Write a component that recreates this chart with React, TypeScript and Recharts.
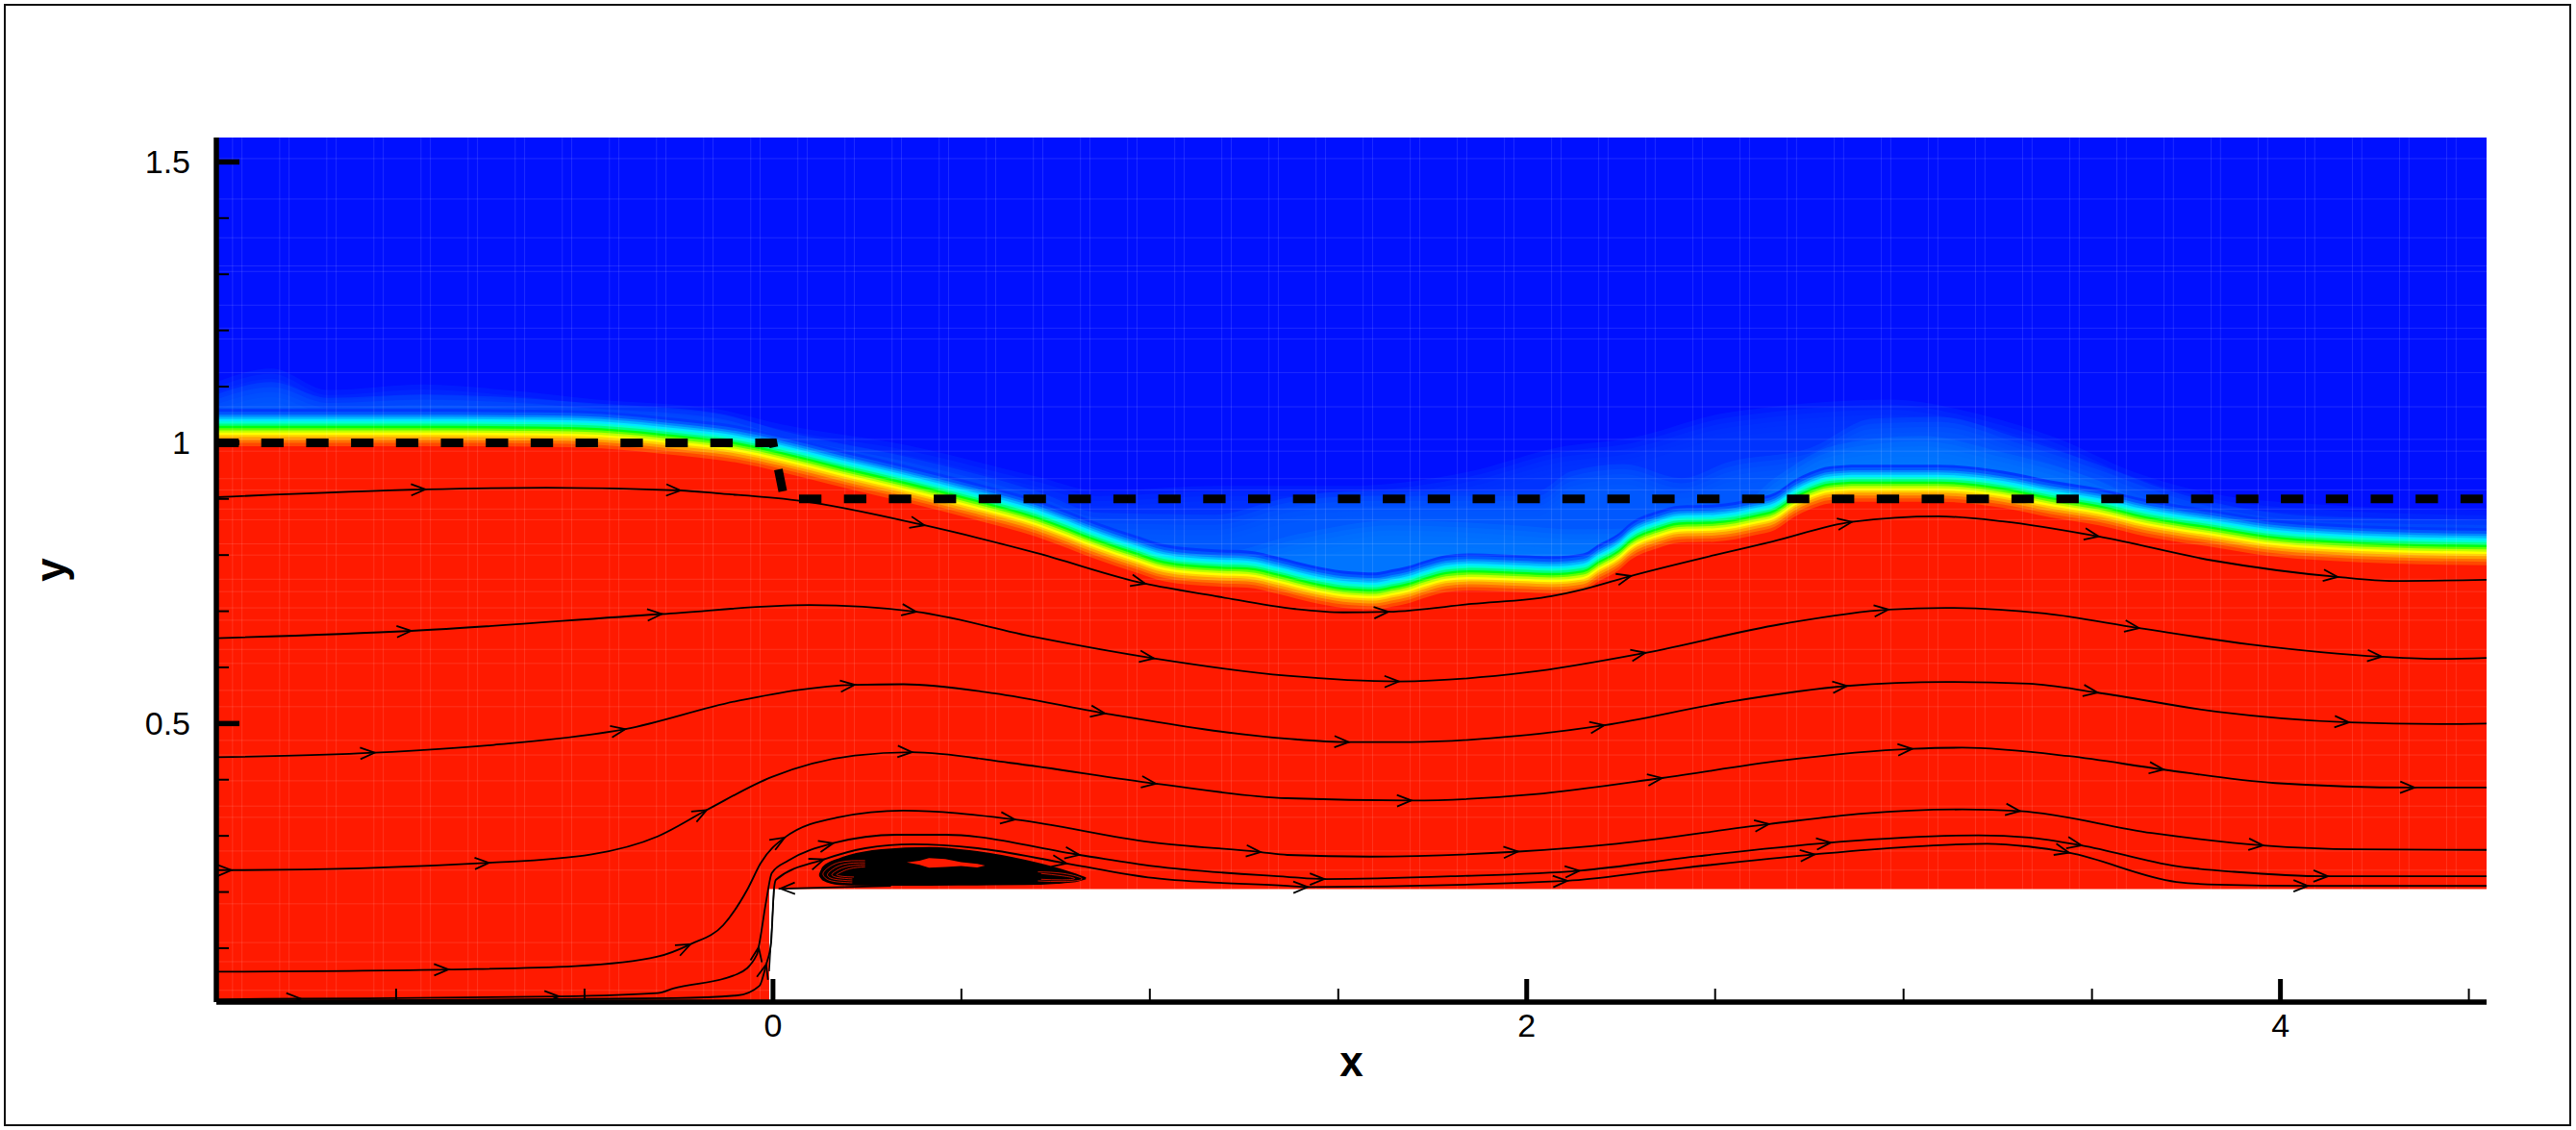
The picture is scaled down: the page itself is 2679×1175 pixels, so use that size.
import { Area, CartesianGrid, ComposedChart, Label, Line, ReferenceArea, XAxis, YAxis } from "recharts";

type P = number[];

const xMin = -1.477;
const xMax = 4.547;
const yMin = 0.004;
const yMax = 1.5435;
const xTicks = [-1, -0.5, 0, 0.5, 1, 1.5, 2, 2.5, 3, 3.5, 4, 4.5];
const xMajor = [0, 2, 4];
const yTicks = [0.1, 0.2, 0.3, 0.4, 0.5, 0.6, 0.7, 0.8, 0.9, 1, 1.1, 1.2, 1.3, 1.4, 1.5];
const yMajor = [0.5, 1, 1.5];

// free surface (green core of the colour band)
const surface: P[] = [
  [-1.477, 1.03], [-0.965, 1.03], [-0.627, 1.029], [-0.456, 1.026], [-0.245, 1.013], [-0.15, 1.006], [-0.099, 1.001],
  [0.02, 0.984], [0.188, 0.956], [0.359, 0.929], [0.53, 0.9], [0.698, 0.869], [0.869, 0.826], [0.953, 0.807],
  [1.039, 0.789], [1.174, 0.78], [1.258, 0.778], [1.345, 0.766], [1.429, 0.752], [1.513, 0.742], [1.6, 0.739], [1.64, 0.744],
  [1.684, 0.75], [1.735, 0.761], [1.786, 0.77], [1.854, 0.773], [1.982, 0.77], [2.066, 0.768], [2.15, 0.773], [2.193, 0.79],
  [2.244, 0.809], [2.277, 0.828], [2.346, 0.848], [2.404, 0.858], [2.499, 0.86], [2.608, 0.872], [2.659, 0.881], [2.71, 0.904],
  [2.753, 0.918], [2.804, 0.928], [2.881, 0.931], [3.092, 0.931], [3.263, 0.92], [3.39, 0.903], [3.518, 0.889], [3.645, 0.869],
  [3.823, 0.85], [3.961, 0.835], [4.129, 0.826], [4.299, 0.821], [4.547, 0.818],
];
const bandOffsets = [0.03, 0.025, 0.02, 0.016, 0.012, 0.008, 0.004, 0, -0.004, -0.008, -0.012, -0.016, -0.02, -0.025, -0.03, -0.036];
const bandColors = [
  "#0038ff", "#0058ff", "#0088ff", "#00b8ff", "#00e8ff", "#00ffd0", "#00ff80", "#00ff10",
  "#60ff00", "#c0ff00", "#ffff00", "#ffd000", "#ffa000", "#ff7000", "#ff4800", "#ff1a00",
];

// pale blue spray above the surface
const hazeFaint: P[] = [
  [-1.477, 1.084], [-1.33, 1.108], [-1.182, 1.07], [-0.927, 1.08], [-0.711, 1.07], [-0.469, 1.053], [-0.15, 1.036],
  [0.02, 1.009], [0.359, 0.971], [0.698, 0.916], [0.869, 0.89], [1.174, 0.899], [1.518, 0.899], [1.849, 0.925],
  [2.078, 0.967], [2.282, 0.985], [2.511, 1.027], [2.664, 1.041], [2.962, 1.053], [3.199, 1.027], [3.403, 0.985],
  [3.607, 0.925], [3.823, 0.885], [4.129, 0.865], [4.547, 0.856],
];
const hazeMid: P[] = [
  [-1.477, 1.062], [-1.33, 1.084], [-1.182, 1.056], [-0.927, 1.062], [-0.469, 1.046], [-0.15, 1.029], [0.02, 0.998],
  [0.359, 0.95], [0.698, 0.89], [0.869, 0.851], [1.174, 0.848], [1.365, 0.878], [1.569, 0.89], [2.027, 0.89],
  [2.117, 0.925], [2.257, 0.938], [2.41, 0.913], [2.537, 0.942], [2.753, 0.967], [2.919, 1.019], [3.097, 1.022],
  [3.301, 0.985], [3.518, 0.937], [3.709, 0.89], [3.963, 0.853], [4.129, 0.844], [4.547, 0.839],
];
const hazeStrong: P[] = [
  [-1.477, 0.9], [1.174, 0.779], [1.391, 0.813], [1.645, 0.838], [1.951, 0.83], [2.13, 0.822], [2.499, 0.83],
  [2.664, 0.916], [2.817, 0.971], [3.046, 0.988], [3.263, 0.959], [3.518, 0.908], [3.658, 0.864], [3.823, 0.83],
  [4.547, 0.805],
];
const hazeLayers: P[][] = [hazeFaint, hazeMid, hazeStrong];
const hazeColors = ["#0038ff", "#005cff", "#0078ff"];
const hazeSoftening = [0.024, 0.015, 0.006, -0.003, -0.012, -0.021];

// dashed black reference profile
const profile: P[] = [[-1.477, 1], [0, 1], [0.03, 0.9], [4.547, 0.9]];

// streamlines: [x, y, 1 if an arrow head sits here]
const stream1: P[] = [
  [-1.477, 0.903], [-0.922, 0.917, 1], [-0.601, 0.92], [-0.245, 0.915, 1], [-0.15, 0.91], [0.079, 0.896], [0.402, 0.853, 1],
  [0.698, 0.804], [0.988, 0.749, 1], [1.174, 0.727], [1.386, 0.704], [1.513, 0.698], [1.633, 0.699, 1], [1.854, 0.713],
  [2.066, 0.727], [2.15, 0.739], [2.277, 0.763, 1], [2.499, 0.8], [2.652, 0.824], [2.863, 0.859, 1], [3.092, 0.869],
  [3.263, 0.86], [3.518, 0.833, 1], [3.823, 0.79], [4.152, 0.761, 1], [4.299, 0.754], [4.547, 0.756],
];
const stream2: P[] = [
  [-1.477, 0.652], [-0.96, 0.665, 1], [-0.295, 0.695, 1], [0.097, 0.711], [0.38, 0.699, 1], [0.695, 0.654], [1.011, 0.616, 1],
  [1.365, 0.585], [1.661, 0.575, 1], [2.0, 0.591], [2.315, 0.626, 1], [2.675, 0.677], [2.96, 0.703, 1], [3.113, 0.706],
  [3.375, 0.696], [3.625, 0.67, 1], [3.92, 0.641], [4.269, 0.619, 1], [4.422, 0.615], [4.547, 0.617],
];
const stream3: P[] = [
  [-1.477, 0.44], [-1.057, 0.448, 1], [-0.741, 0.462], [-0.392, 0.49, 1], [-0.089, 0.541], [0.217, 0.569, 1], [0.346, 0.57],
  [0.586, 0.554], [0.881, 0.518, 1], [1.365, 0.473], [1.528, 0.467, 1], [1.694, 0.467], [1.977, 0.478], [2.206, 0.497, 1],
  [2.522, 0.537], [2.85, 0.567, 1], [3.113, 0.574], [3.332, 0.571], [3.515, 0.555, 1], [3.833, 0.521], [4.182, 0.502, 1],
  [4.422, 0.499], [4.547, 0.5],
];
const stream4: P[] = [
  [-1.477, 0.239], [-1.437, 0.239, 1], [-0.753, 0.252, 1], [-0.481, 0.267], [-0.306, 0.299], [-0.176, 0.346, 1], [-0.003, 0.405],
  [0.217, 0.443], [0.369, 0.449, 1], [0.629, 0.43], [1.016, 0.393, 1], [1.365, 0.367], [1.694, 0.363, 1], [2.02, 0.374],
  [2.359, 0.403, 1], [2.675, 0.434], [3.023, 0.455, 1], [3.156, 0.457], [3.438, 0.442], [3.69, 0.418, 1], [3.986, 0.394],
  [4.356, 0.386, 1], [4.547, 0.386],
];
const stream5: P[] = [
  [-1.477, 0.058], [-0.861, 0.062, 1], [-0.525, 0.068], [-0.306, 0.085], [-0.219, 0.107, 1], [-0.132, 0.141], [-0.066, 0.207],
  [-0.033, 0.251], [0.031, 0.297, 1], [0.173, 0.333], [0.346, 0.345], [0.642, 0.329, 1], [1.001, 0.289], [1.294, 0.271, 1],
  [1.365, 0.266], [1.584, 0.263], [1.977, 0.272, 1], [2.239, 0.286], [2.643, 0.321, 1], [2.895, 0.34], [3.156, 0.347],
  [3.309, 0.344, 1], [3.658, 0.305], [3.954, 0.283, 1], [4.204, 0.276], [4.547, 0.275],
];
const stream6: P[] = [
  [-1.477, 0.009], [-1.253, 0.01, 1], [-0.568, 0.014, 1], [-0.306, 0.02], [-0.265, 0.028], [-0.094, 0.054], [-0.043, 0.088],
  [-0.038, 0.102, 1], [-0.018, 0.184], [-0.003, 0.234], [0.041, 0.256], [0.16, 0.287, 1], [0.329, 0.302], [0.456, 0.302],
  [0.813, 0.266, 1], [1.009, 0.246], [1.365, 0.227], [1.463, 0.223, 1], [1.801, 0.228], [2.14, 0.238, 1], [2.458, 0.264],
  [2.807, 0.288, 1], [3.003, 0.297], [3.199, 0.301], [3.332, 0.297], [3.472, 0.283, 1], [3.724, 0.246], [3.877, 0.236],
  [4.126, 0.228, 1], [4.547, 0.228],
];
const stream7: P[] = [
  [-1.477, 0.005], [-0.265, 0.011], [-0.094, 0.016], [-0.036, 0.033], [-0.018, 0.071, 1], [-0.005, 0.11], [0.003, 0.208],
  [0.008, 0.222], [0.135, 0.258, 1], [0.245, 0.278], [0.372, 0.285], [0.543, 0.278], [0.779, 0.251, 1], [1.009, 0.225],
  [1.365, 0.211], [1.419, 0.209, 1], [2.108, 0.22, 1], [2.348, 0.238], [2.764, 0.267, 1], [3.003, 0.28], [3.222, 0.286],
  [3.332, 0.281], [3.439, 0.27, 1], [3.724, 0.218], [3.833, 0.213], [4.073, 0.211, 1], [4.547, 0.211],
];
const wallRise: P[] = [[-0.01, 0.059], [-0.002, 0.15], [0.003, 0.206]];
const wallBack: P[] = [[0.313, 0.211], [0.02, 0.206, 1], [0.015, 0.206]];
const streams = [stream1, stream2, stream3, stream4, stream5, stream6, stream7];

// recirculation bubble behind the step: x, lower, upper
const bubble: P[] = [
  [0.124, 0.2301, 0.2301], [0.134, 0.2216, 0.2443], [0.176, 0.2141, 0.2585], [0.202, 0.2135, 0.2644], [0.287, 0.213, 0.2747],
  [0.414, 0.2129, 0.2786], [0.542, 0.2135, 0.2712], [0.669, 0.2141, 0.2558], [0.754, 0.2165, 0.2415], [0.796, 0.2187, 0.2325],
  [0.83, 0.2245, 0.2245],
];
const bubbleHole: P[] = [
  [0.355, 0.2528, 0.2528], [0.389, 0.2484, 0.2558], [0.414, 0.2433, 0.2604], [0.457, 0.2444, 0.2587], [0.499, 0.2461, 0.253],
  [0.542, 0.2438, 0.2501], [0.563, 0.2473, 0.2473],
];
const bubbleRings: P[][] = [
  [[0.2445, 0.2558], [0.1766, 0.253], [0.1384, 0.2387], [0.1342, 0.2289], [0.1554, 0.2198], [0.2105, 0.2164]],
  [[0.2445, 0.2519], [0.1851, 0.249], [0.1511, 0.2369], [0.1452, 0.2289], [0.1639, 0.2227], [0.2105, 0.2198]],
  [[0.2445, 0.2484], [0.1936, 0.245], [0.1622, 0.2352], [0.1571, 0.2295], [0.1741, 0.2255], [0.2105, 0.2233]],
  [[0.2445, 0.245], [0.2037, 0.2415], [0.1749, 0.2335], [0.1698, 0.2301], [0.1851, 0.2278], [0.2148, 0.2267]],
  [[0.703, 0.2358], [0.7708, 0.233], [0.82, 0.2233], [0.7708, 0.2187], [0.703, 0.2198]],
  [[0.7115, 0.233], [0.7667, 0.2289], [0.8005, 0.2239], [0.7667, 0.2216], [0.7115, 0.2227]],
];

// faint mesh lines of the solution grid
const meshX = [
  -1.434, -1.409, -1.309, -1.284, -1.184, -1.159, -1.059, -1.034, -0.934, -0.909, -0.809, -0.784, -0.684, -0.659, -0.559, -0.534,
  -0.434, -0.409, -0.309, -0.284, -0.184, -0.159, -0.059, -0.034, 0.066, 0.091, 0.191, 0.216, 0.316, 0.341, 0.441, 0.466, 0.566,
  0.591, 0.691, 0.716, 0.816, 0.841, 0.941, 0.966, 1.066, 1.091, 1.191, 1.216, 1.316, 1.341, 1.441, 1.466, 1.566, 1.591, 1.691,
  1.716, 1.816, 1.841, 1.941, 1.966, 2.066, 2.091, 2.191, 2.216, 2.316, 2.341, 2.441, 2.466, 2.566, 2.591, 2.691, 2.716, 2.816,
  2.841, 2.941, 2.966, 3.066, 3.091, 3.191, 3.216, 3.316, 3.341, 3.441, 3.466, 3.566, 3.591, 3.691, 3.716, 3.816, 3.841, 3.941,
  3.966, 4.066, 4.091, 4.191, 4.216, 4.316, 4.341, 4.441, 4.466,
];
const meshY = [
  1.506, 1.434, 1.365, 1.315, 1.305, 1.245, 1.204, 1.185, 1.125, 1.064, 1.006, 0.985, 0.936, 0.916, 0.882, 0.863, 0.82, 0.8, 0.757,
  0.735, 0.706, 0.684, 0.632, 0.607, 0.559, 0.53, 0.47, 0.444, 0.398, 0.353, 0.333, 0.273, 0.239, 0.179, 0.11, 0.076, 0.025,
];

const W = 2679;
const H = 1175;
const plotLeft = 225;
const plotRight = 93;
const plotTop = 143;
const plotBottom = 133;
const pxPerX = (W - plotLeft - plotRight) / (xMax - xMin);
const pxPerY = (H - plotTop - plotBottom) / (yMax - yMin);

const toRows = (pts: P[]) => pts.map(([x, y, arrow]) => ({ x, y, arrow }));
const FONT = '"Liberation Sans", Arial, sans-serif';

function XTick({ x, y, payload }: any) {
  const major = xMajor.includes(payload.value);
  return (
    <g>
      <line x1={x} x2={x} y1={y} y2={y - (major ? 24 : 14)} stroke="#000" strokeWidth={major ? 5 : 2} />
      {major && (
        <text x={x} y={y + 36} textAnchor="middle" fontSize={34} fontFamily={FONT} fill="#000">
          {payload.value}
        </text>
      )}
    </g>
  );
}

function YTick({ x, y, payload }: any) {
  const major = yMajor.includes(payload.value);
  return (
    <g>
      <line x1={x} x2={x + (major ? 24 : 13)} y1={y} y2={y} stroke="#000" strokeWidth={major ? 5.5 : 2} />
      {major && (
        <text x={x - 27} y={y + 12} textAnchor="end" fontSize={34} fontFamily={FONT} fill="#000">
          {payload.value}
        </text>
      )}
    </g>
  );
}

// open chevron head, turned along the local direction of the streamline
const arrowDot = (pts: P[]) => (p: any) => {
  const { cx, cy, index } = p;
  const here = pts[index];
  if (!here || !here[2]) return <g key={index} />;
  const next = pts[index + 1] ?? here;
  const prev = pts[index - 1] ?? here;
  const angle = (Math.atan2(-(next[1] - prev[1]) * pxPerY, (next[0] - prev[0]) * pxPerX) * 180) / Math.PI;
  return (
    <path
      key={index}
      d="M-15,-6 L0,0 L-15,6"
      fill="none"
      stroke="#000"
      strokeWidth={1.8}
      transform={`translate(${cx},${cy}) rotate(${angle})`}
    />
  );
};

export default function App() {
  return (
    <div style={{ position: "absolute", left: 0, top: 0, width: W, height: H, background: "#fff" }}>
      <div style={{ position: "absolute", left: 4, top: 4, width: 2666, height: 1163, border: "2px solid #111" }} />
      <ComposedChart
        width={W}
        height={H}
        margin={{ left: 0, right: plotRight, top: plotTop, bottom: 0 }}
        style={{ position: "absolute", left: 0, top: 0 }}
      >
        <XAxis
          dataKey="x"
          type="number"
          domain={[xMin, xMax]}
          allowDataOverflow
          ticks={xTicks}
          interval={0}
          height={plotBottom}
          tick={XTick}
          tickLine={false}
          tickSize={0}
          tickMargin={0}
          axisLine={{ stroke: "#000", strokeWidth: 5.5 }}
        >
          <Label value="x" position="insideTop" offset={46} fontSize={44} fontWeight="bold" fontFamily={FONT} fill="#000" />
        </XAxis>
        <YAxis
          type="number"
          domain={[yMin, yMax]}
          allowDataOverflow
          ticks={yTicks}
          interval={0}
          width={plotLeft}
          tick={YTick}
          tickLine={false}
          tickSize={0}
          tickMargin={0}
          axisLine={{ stroke: "#000", strokeWidth: 5.5 }}
        >
          <Label value="y" position="insideLeft" angle={-90} offset={52} textAnchor="middle" fontSize={44} fontWeight="bold" fontFamily={FONT} fill="#000" />
        </YAxis>

        <ReferenceArea x1={xMin} x2={xMax} y1={yMin} y2={yMax} fill="#0010ff" fillOpacity={1} stroke="none" />
        {hazeLayers.map((layer, i) =>
          hazeSoftening.map((off) => (
            <Area
              key={`${i}-${off}`}
              data={layer.map(([x, y]) => ({ x, y: y + off }))}
              dataKey="y"
              type="monotone"
              baseValue={yMin}
              fill={hazeColors[i]}
              fillOpacity={0.32}
              stroke="none"
              isAnimationActive={false}
            />
          )),
        )}
        {bandOffsets.map((off, i) => (
          <Area
            key={off}
            data={surface.map(([x, y]) => ({ x, y: y + off }))}
            dataKey="y"
            type="monotone"
            baseValue={yMin}
            fill={bandColors[i]}
            fillOpacity={1}
            stroke="none"
            isAnimationActive={false}
          />
        ))}
        <CartesianGrid verticalValues={meshX} horizontalValues={meshY} stroke="#fff" strokeOpacity={0.12} strokeWidth={1} zIndex={150} />
        <ReferenceArea x1={-0.01} x2={xMax} y1={yMin} y2={0.205} fill="#fff" fillOpacity={1} stroke="none" zIndex={160} />

        <Area
          data={bubble.map(([x, lo, hi]) => ({ x, band: [lo, hi] }))}
          dataKey="band"
          type="monotone"
          fill="#000"
          fillOpacity={1}
          stroke="#000"
          strokeWidth={2}
          zIndex={300}
          isAnimationActive={false}
        />
        <Area
          data={bubbleHole.map(([x, lo, hi]) => ({ x, band: [lo, hi] }))}
          dataKey="band"
          type="linear"
          fill="#ff1a00"
          fillOpacity={1}
          stroke="none"
          zIndex={310}
          isAnimationActive={false}
        />
        {bubbleRings.map((ring, i) => (
          <Line
            key={i}
            data={toRows(ring)}
            dataKey="y"
            type="natural"
            stroke="#ff1a00"
            strokeOpacity={0.75}
            strokeWidth={1}
            dot={false}
            activeDot={false}
            zIndex={320}
            isAnimationActive={false}
          />
        ))}
        {streams.map((s, i) => (
          <Line
            key={i}
            data={toRows(s)}
            dataKey="y"
            type="monotone"
            stroke="#000"
            strokeWidth={1.8}
            dot={arrowDot(s)}
            activeDot={false}
            isAnimationActive={false}
          />
        ))}
        <Line data={toRows(wallRise)} dataKey="y" type="linear" stroke="#000" strokeWidth={1.4} dot={false} activeDot={false} isAnimationActive={false} />
        <Line data={toRows(wallBack)} dataKey="y" type="linear" stroke="#000" strokeWidth={1.8} dot={arrowDot(wallBack)} activeDot={false} isAnimationActive={false} />
        <Line
          data={toRows(profile)}
          dataKey="y"
          type="linear"
          stroke="#000"
          strokeWidth={9}
          strokeDasharray="23.3 23.4"
          dot={false}
          activeDot={false}
          isAnimationActive={false}
        />
      </ComposedChart>
    </div>
  );
}
